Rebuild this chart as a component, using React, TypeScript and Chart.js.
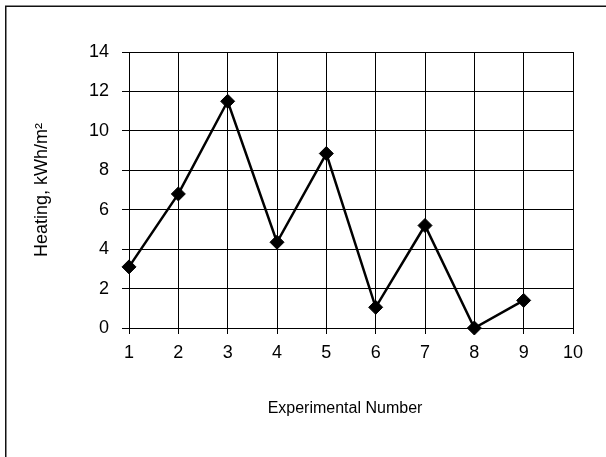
import React, { useEffect, useRef } from "react";
import { Chart, registerables } from "chart.js";

Chart.register(...registerables);

const experimentNumbers = [1, 2, 3, 4, 5, 6, 7, 8, 9];
const heatingValues = [3.1, 6.8, 11.5, 4.35, 8.85, 1.05, 5.2, 0.0, 1.4];
const xTitle = "Experimental Number";
const yTitle = "Heating, kWh/m²";

const FONT = "Arial, 'Liberation Sans', sans-serif";

export default function App() {
  const ref = useRef<HTMLCanvasElement | null>(null);

  useEffect(() => {
    if (!ref.current) return;
    const framePlugin = {
      id: "frame",
      beforeDraw(chart: any) {
        const ctx = chart.ctx;
        ctx.save();
        ctx.fillStyle = "#fff";
        ctx.fillRect(0, 0, chart.width, chart.height);
        ctx.strokeStyle = "#111";
        ctx.lineWidth = 1.5;
        ctx.beginPath();
        ctx.moveTo(5.75, chart.height);
        ctx.lineTo(5.75, 6.25);
        ctx.lineTo(chart.width, 6.25);
        ctx.stroke();
        ctx.restore();
      },
      afterDraw(chart: any) {
        const ctx = chart.ctx;
        ctx.save();
        ctx.fillStyle = "#000";
        ctx.font = `16px ${FONT}`;
        ctx.textAlign = "center";
        ctx.textBaseline = "middle";
        ctx.fillText(xTitle, 345, 409);
        ctx.restore();
      },
    };

    const chart = new Chart(ref.current, {
      type: "line",
      data: {
        datasets: [
          {
            data: experimentNumbers.map((x, i) => ({ x, y: heatingValues[i] })),
            borderColor: "#000",
            backgroundColor: "#000",
            borderWidth: 2.5,
            pointStyle: "rectRot",
            pointRadius: 7,
            pointBorderWidth: 1,
            pointBackgroundColor: "#000",
            pointBorderColor: "#000",
            tension: 0,
            fill: false,
            clip: false as any,
          },
        ],
      },
      options: {
        animation: false,
        responsive: false,
        maintainAspectRatio: false,
        layout: { padding: { top: 52, right: 33, left: 0, bottom: 0 } },
        plugins: {
          legend: { display: false },
          tooltip: { enabled: false },
          title: { display: false },
        },
        scales: {
          x: {
            type: "linear",
            min: 1,
            max: 10,
            ticks: {
              stepSize: 1,
              color: "#000",
              font: { family: FONT, size: 18 },
              padding: 8,
              maxRotation: 0,
            },
            grid: { color: "#000", lineWidth: 1, tickLength: 6, drawTicks: true },
            border: { color: "#000", width: 1 },
            afterFit: (scale: any) => {
              scale.height = 129;
            },
          },
          y: {
            type: "linear",
            min: 0,
            max: 14,
            ticks: {
              stepSize: 2,
              color: "#000",
              font: { family: FONT, size: 18 },
              padding: 13,
            },
            grid: { color: "#000", lineWidth: 1, tickLength: 7, drawTicks: true },
            border: { color: "#000", width: 1 },
            title: {
              display: true,
              text: yTitle,
              color: "#000",
              font: { family: FONT, size: 18 },
              padding: { top: 31, bottom: 0 },
            },
            afterFit: (scale: any) => {
              scale.width = 129;
            },
          },
        },
      },
      plugins: [framePlugin],
    });
    return () => chart.destroy();
  }, []);

  return (
    <div style={{ position: "fixed", left: 0, top: 0, width: 606, height: 457 }}>
      <canvas ref={ref} width={606} height={457} style={{ display: "block", width: 606, height: 457 }} />
    </div>
  );
}
